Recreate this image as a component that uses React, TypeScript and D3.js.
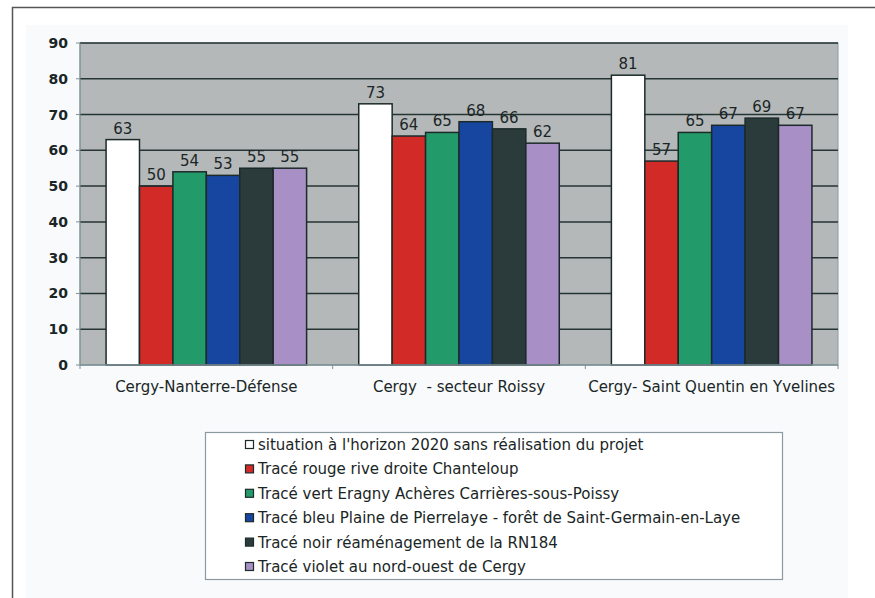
import React, { useEffect, useRef } from 'react';
import * as d3 from 'd3';

const categories = ['Cergy-Nanterre-Défense', 'Cergy  - secteur Roissy', 'Cergy- Saint Quentin en Yvelines'];

const seriesNames = [
  "situation à l'horizon 2020 sans réalisation du projet",
  'Tracé rouge rive droite Chanteloup',
  'Tracé vert Eragny Achères Carrières-sous-Poissy',
  'Tracé bleu Plaine de Pierrelaye - forêt de Saint-Germain-en-Laye',
  'Tracé noir réaménagement de la RN184',
  'Tracé violet au nord-ouest de Cergy',
];

const seriesColors = ['#ffffff', '#d22a27', '#239a6a', '#1746a0', '#2b3a3a', '#a88fc6'];

// one row per series, one value per category
const seriesValues = [
  [63, 73, 81],
  [50, 64, 57],
  [54, 65, 65],
  [53, 68, 67],
  [55, 66, 69],
  [55, 62, 67],
];

const yTicks = [0, 10, 20, 30, 40, 50, 60, 70, 80, 90];

export default function App() {
  const svgRef = useRef<SVGSVGElement>(null);

  useEffect(() => {
    if (!svgRef.current) return;
    const svg = d3.select(svgRef.current);
    svg.selectAll('*').remove();

    const width = 875;
    const height = 598;
    const font = '"DejaVu Sans", Verdana, sans-serif';
    const textColor = '#1a2626';

    svg.attr('width', width).attr('height', height);

    // white page + outer frame
    svg.append('rect').attr('width', width).attr('height', height).attr('fill', '#ffffff');
    svg.append('rect').attr('x', 26).attr('y', 25).attr('width', 822).attr('height', 573).attr('fill', '#f9fafc');
    svg.append('path')
      .attr('d', `M12.5,${height} V7.5 H${width}`)
      .attr('fill', 'none')
      .attr('stroke', '#555555')
      .attr('stroke-width', 1.5);

    const plot = { left: 80, right: 838, top: 43, bottom: 365 };

    const x0 = d3.scaleBand().domain(categories).range([plot.left, plot.right]).paddingInner(0).paddingOuter(0);
    const x1 = d3
      .scaleBand()
      .domain(seriesNames)
      .range([0, x0.bandwidth()])
      .paddingOuter(0.78)
      .paddingInner(0);
    const y = d3.scaleLinear().domain([0, 90]).range([plot.bottom, plot.top]);

    // plot background
    svg.append('rect')
      .attr('x', plot.left)
      .attr('y', plot.top)
      .attr('width', plot.right - plot.left)
      .attr('height', plot.bottom - plot.top)
      .attr('fill', '#b5b8b9')
      .attr('stroke', '#8a9a9e')
      .attr('stroke-width', 1);

    // gridlines
    yTicks.filter((t) => t > 0).forEach((t) => {
      svg.append('line')
        .attr('x1', plot.left)
        .attr('x2', plot.right)
        .attr('y1', y(t))
        .attr('y2', y(t))
        .attr('stroke', '#263434')
        .attr('stroke-width', 1.5);
    });

    // y axis
    svg.append('line')
      .attr('x1', plot.left)
      .attr('x2', plot.left)
      .attr('y1', plot.top)
      .attr('y2', plot.bottom)
      .attr('stroke', '#7d9096');
    yTicks.forEach((t) => {
      svg.append('line')
        .attr('x1', plot.left - 4)
        .attr('x2', plot.left)
        .attr('y1', y(t))
        .attr('y2', y(t))
        .attr('stroke', '#7d9096');
      svg.append('text')
        .attr('x', 68)
        .attr('y', y(t))
        .attr('text-anchor', 'end')
        .attr('dominant-baseline', 'central')
        .attr('font-family', font)
        .attr('font-size', '14px')
        .attr('font-weight', 'bold')
        .attr('fill', textColor)
        .text(t);
    });

    // bars
    categories.forEach((cat, ci) => {
      const gx = x0(cat)!;
      seriesNames.forEach((s, si) => {
        const v = seriesValues[si][ci];
        const bx = gx + x1(s)!;
        svg.append('rect')
          .attr('x', bx)
          .attr('y', y(v))
          .attr('width', x1.bandwidth())
          .attr('height', y(0) - y(v))
          .attr('fill', seriesColors[si])
          .attr('stroke', '#1c2a2a')
          .attr('stroke-width', 1.5);
        svg.append('text')
          .attr('x', bx + x1.bandwidth() / 2)
          .attr('y', y(v) - 6)
          .attr('text-anchor', 'middle')
          .attr('font-family', font)
          .attr('font-size', '15px')
          .attr('fill', textColor)
          .text(v);
      });
      svg.append('text')
        .attr('x', gx + x0.bandwidth() / 2)
        .attr('y', 392)
        .attr('text-anchor', 'middle')
        .attr('font-family', font)
        .attr('font-size', '15px')
        .attr('fill', textColor)
        .style('white-space', 'pre')
        .text(cat);
    });

    // x axis line and ticks
    svg.append('line')
      .attr('x1', plot.left)
      .attr('x2', plot.right)
      .attr('y1', plot.bottom)
      .attr('y2', plot.bottom)
      .attr('stroke', '#7d9096')
      .attr('stroke-width', 1.5);
    categories.forEach((cat, ci) => {
      const tx = ci === 0 ? plot.left : x0(cat)!;
      svg.append('line')
        .attr('x1', tx)
        .attr('x2', tx)
        .attr('y1', plot.bottom)
        .attr('y2', plot.bottom + 4)
        .attr('stroke', '#7d9096');
    });
    svg.append('line')
      .attr('x1', plot.right)
      .attr('x2', plot.right)
      .attr('y1', plot.bottom)
      .attr('y2', plot.bottom + 4)
      .attr('stroke', '#7d9096');

    // legend
    const legend = svg.append('g');
    legend.append('rect')
      .attr('x', 205.5)
      .attr('y', 432.5)
      .attr('width', 577)
      .attr('height', 147)
      .attr('fill', '#ffffff')
      .attr('stroke', '#8a9aa0')
      .attr('stroke-width', 1.2);
    const rowY = d3.scalePoint().domain(seriesNames).range([445, 567]);
    seriesNames.forEach((s, si) => {
      const ry = rowY(s)!;
      legend.append('rect')
        .attr('x', 245.5)
        .attr('y', ry - 4.5)
        .attr('width', 8)
        .attr('height', 8)
        .attr('fill', seriesColors[si])
        .attr('stroke', '#1c2a2a')
        .attr('stroke-width', 1.2);
      legend.append('text')
        .attr('x', 258)
        .attr('y', ry)
        .attr('dominant-baseline', 'central')
        .attr('font-family', font)
        .attr('font-size', '15px')
        .attr('fill', textColor)
        .text(s);
    });
  }, []);

  return (
    <div style={{ position: 'absolute', left: 0, top: 0 }}>
      <svg ref={svgRef} style={{ display: 'block' }}></svg>
    </div>
  );
}
